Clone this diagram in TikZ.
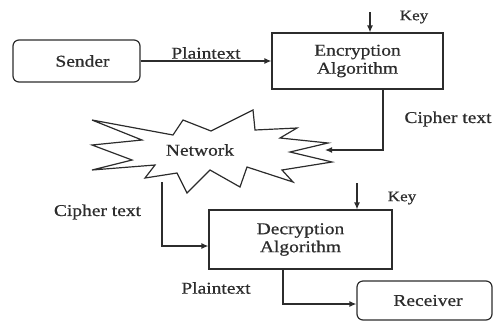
\documentclass[tikz,border=0pt]{standalone}
\usepackage{fontspec}
\setmainfont{Liberation Serif}[FakeStretch=1.18, FakeBold=0.7]
\usetikzlibrary{arrows.meta}
\definecolor{ink}{HTML}{2c2c2c}
\begin{document}
\begin{tikzpicture}[x=1pt, y=-1pt, line width=1.2pt,
  every node/.style={text=ink},
  txt/.style={font=\fontsize{16.5}{18}\selectfont},
  keytxt/.style={font=\fontsize{14.5}{16}\selectfont},
  procbox/.style={draw=ink, txt, align=center, inner sep=0pt},
  endbox/.style={procbox, rounded corners=6pt},
  arr/.style={draw=ink, -{Latex[length=7pt,width=6pt]}}]
\useasboundingbox (0,0) rectangle (494,322);

% parties and processing blocks
\node[endbox, minimum width=127pt, minimum height=42pt] (sender) at (76.5,61) {\hspace*{12pt}Sender};
\node[procbox, minimum width=171pt, minimum height=56pt] (enc) at (357.5,61) {Encryption\\Algorithm};
\node[procbox, minimum width=183pt, minimum height=59pt] (dec) at (300.5,239.5) {Decryption\\Algorithm};
\node[endbox, minimum width=135pt, minimum height=39pt] (recv) at (424.5,300.5) {\hspace*{7pt}Receiver};

% the network cloud
\draw[ink, line join=miter] (92,120) -- (173,135) -- (183,120) -- (211,131) -- (253,110)
  -- (255,130) -- (297,128) -- (280,138) -- (328,143) -- (290,152) -- (332,162)
  -- (282,170) -- (293,182) -- (247,167) -- (240,187) -- (210,170) -- (187,193)
  -- (177,173) -- (145,178) -- (155,165) -- (92,170) -- (132,160) -- (92,145)
  -- (142,140) -- cycle;
\node[txt] (net) at (200,150) {Network};
\coordinate (netin) at (325,150);
\coordinate (netout) at (162,182);

% key inputs
\coordinate (k1) at (370,12);
\coordinate (k2) at (357,183);
\draw[arr] (k1) -- (k1 |- enc.north);
\draw[arr] (k2) -- (k2 |- dec.north);
\node[keytxt] (key1) at (414,17) {Key};
\node[keytxt] (key2) at (402,198) {Key};

% data flow
\draw[arr] (sender.east) -- (enc.west);
\node[txt] (pt1) at (206,53) {Plaintext};
\draw[arr] ([xshift=25.5pt]enc.south) |- (netin);
\node[txt] (ct1) at (448,119) {Cipher text};
\draw[arr] (netout) |- ([yshift=-6.5pt]dec.west);
\node[txt] (ct2) at (97.5,212) {Cipher text};
\draw[arr] ([xshift=-17.5pt]dec.south) |- ([yshift=-3.5pt]recv.west);
\node[txt] (pt2) at (216,288) {Plaintext};
\end{tikzpicture}
\end{document}
